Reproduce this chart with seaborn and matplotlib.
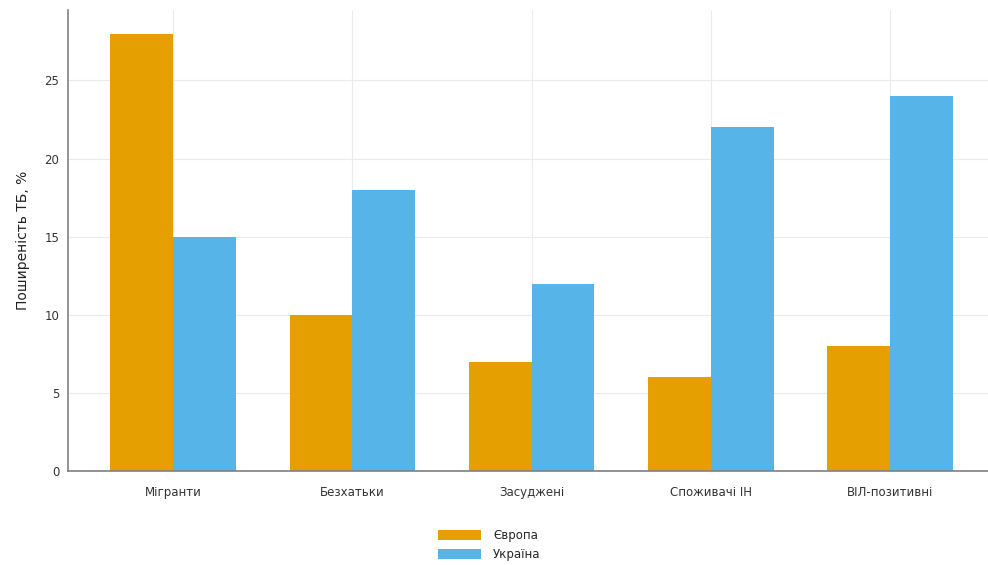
import matplotlib
matplotlib.use("Agg")
import matplotlib.pyplot as plt
import seaborn as sns
import pandas as pd

groups = ["Мігранти", "Безхатьки", "Засуджені", "Споживачі ІН", "ВІЛ-позитивні"]
europe = [28, 10, 7, 6, 8]
ukraine = [15, 18, 12, 22, 24]
series_names = ["Європа", "Україна"]
colors = ["#E69F00", "#56B4E9"]

df = pd.DataFrame({
    "group": groups * 2,
    "value": europe + ukraine,
    "region": [series_names[0]] * len(groups) + [series_names[1]] * len(groups),
})

sns.set_style("white")
plt.rcParams["font.family"] = ["DejaVu Sans"]

fig = plt.figure(figsize=(9.88, 5.65), dpi=100)
ax = fig.add_axes([0.069, 0.166, 0.938, 0.816])

sns.barplot(data=df, x="group", y="value", hue="region", palette=colors,
            width=0.7, ax=ax, saturation=1, legend=True, zorder=2,
            linewidth=0, edgecolor="none")

ax.set_ylim(0, 29.5)
ax.set_xlim(-0.585, 4.585)
ax.set_yticks([0, 5, 10, 15, 20, 25])
ax.grid(True, color="#ebebeb", linewidth=0.8, zorder=0)
ax.set_axisbelow(True)
for s in ["top", "right"]:
    ax.spines[s].set_visible(False)
for s in ["left", "bottom"]:
    ax.spines[s].set_color("#808080")
    ax.spines[s].set_linewidth(1.2)
ax.tick_params(axis="y", length=3, color="#aaaaaa", labelsize=8.5, labelcolor="#333333")
ax.tick_params(axis="x", length=0, labelsize=8.5, labelcolor="#333333", pad=11)
ax.set_xlabel("")
ax.set_ylabel("Поширеність ТБ, %", fontsize=10, color="#222222", labelpad=10)

handles, labels = ax.get_legend_handles_labels()
ax.legend_.remove()
fig.legend(handles, labels, loc="upper center", bbox_to_anchor=(0.495, 0.083),
           frameon=False, ncol=1, fontsize=8.5, handlelength=3.7,
           handleheight=0.9, labelspacing=0.55, handletextpad=1.0)

fig.savefig("out.png", dpi=100)
